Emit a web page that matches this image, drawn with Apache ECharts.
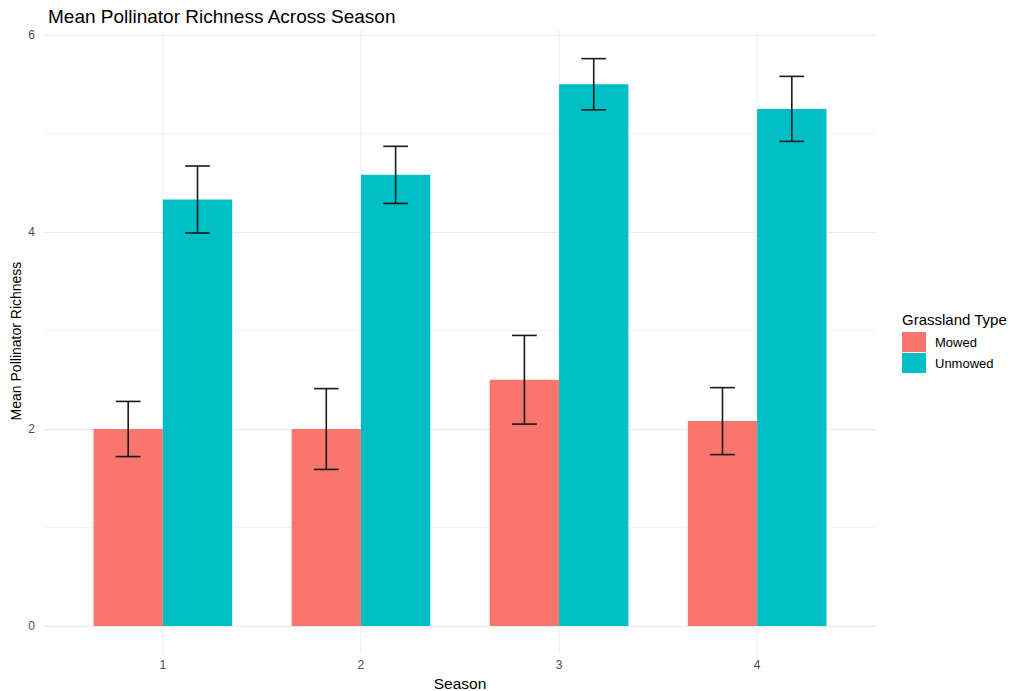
<!DOCTYPE html>
<html>
<head>
<meta charset="utf-8">
<script src="https://cdn.jsdelivr.net/npm/echarts@6/dist/echarts.min.js"></script>
<style>
html,body{margin:0;padding:0;background:#fff;}
#chart{width:1018px;height:691px;}
</style>
</head>
<body>
<div id="chart"></div>
<script>
// ---- data ----
const seasons = ['1', '2', '3', '4'];
const groups = ['Mowed', 'Unmowed'];
const mowedMean = [2.0, 2.0, 2.5, 2.08];
const mowedSE = [0.28, 0.41, 0.45, 0.34];
const unmowedMean = [4.33, 4.58, 5.5, 5.25];
const unmowedSE = [0.34, 0.29, 0.26, 0.33];
const yTicks = [0, 2, 4, 6];

// ---- layout/style ----
const FONT = "'Liberation Sans', Arial, sans-serif";
const colors = ['#F8766D', '#00BFC4'];
const BAR_W = 0.35;      // each dodged bar width (x units)
const CAP_W = 0.125;     // error bar cap width (x units)

const means = [mowedMean, unmowedMean];
const ses = [mowedSE, unmowedSE];
let maxTop = 0;
means.forEach((m, g) => m.forEach((v, i) => { maxTop = Math.max(maxTop, v + ses[g][i]); }));
const panelTop = maxTop * 1.05;
const panelBottom = -maxTop * 0.05;

function barSeries(g) {
  return {
    name: groups[g],
    type: 'custom',
    itemStyle: { color: colors[g] },
    z: 3,
    data: seasons.map((s, i) => [i + 1, means[g][i]]),
    renderItem: function (params, api) {
      const x = api.value(0), y = api.value(1);
      const off = g === 0 ? -BAR_W / 2 : BAR_W / 2;
      const p0 = api.coord([x + off - BAR_W / 2, y]);
      const p1 = api.coord([x + off + BAR_W / 2, 0]);
      return {
        type: 'rect',
        shape: { x: p0[0], y: p0[1], width: p1[0] - p0[0], height: p1[1] - p0[1] },
        style: { fill: colors[g] }
      };
    }
  };
}

const errData = [];
groups.forEach((gname, g) => seasons.forEach((s, i) => errData.push([i + 1, means[g][i], ses[g][i], g])));

const option = {
  animation: false,
  backgroundColor: '#ffffff',
  textStyle: { fontFamily: FONT },
  title: {
    text: 'Mean Pollinator Richness Across Season',
    left: 43, top: 2,
    textStyle: { fontFamily: FONT, fontSize: 19, fontWeight: 'normal', color: '#000' }
  },
  grid: { left: 44, right: 142, top: 35, bottom: 65, containLabel: false, outerBoundsMode: 'none' },
  legend: {
    data: groups,
    orient: 'vertical',
    left: 902, top: 332,
    itemWidth: 24, itemHeight: 20, itemGap: 1,
    icon: 'rect',
    padding: 0,
    textStyle: { fontFamily: FONT, fontSize: 13, color: '#000', padding: [0, 0, 0, 4] }
  },
  graphic: [
    {
      type: 'text', left: 902, top: 312,
      style: { text: 'Grassland Type', fontFamily: FONT, fontSize: 15, fill: '#000' }
    },
    {
      type: 'text', x: 16, y: 341, rotation: Math.PI / 2,
      style: { text: 'Mean Pollinator Richness', fontFamily: FONT, fontSize: 14, fill: '#000',
               textAlign: 'center', textVerticalAlign: 'middle' }
    }
  ],
  xAxis: {
    type: 'value',
    min: 0.4, max: 4.6,
    name: 'Season',
    nameLocation: 'middle',
    nameGap: 46,
    nameTextStyle: { fontFamily: FONT, fontSize: 15.5, color: '#000' },
    axisLine: { show: false },
    axisTick: { show: false },
    splitLine: { show: false },
    axisLabel: {
      customValues: seasons.map((s, i) => i + 1),
      formatter: v => seasons[Math.round(v) - 1] || '',
      fontFamily: FONT, fontSize: 12, color: '#4D4D4D', margin: 33
    }
  },
  yAxis: {
    type: 'value',
    min: yTicks[0], max: yTicks[yTicks.length - 1], interval: yTicks[1] - yTicks[0],
    axisLine: { show: false },
    axisTick: { show: false },
    axisLabel: { fontFamily: FONT, fontSize: 12, color: '#4D4D4D', margin: 9 },
    splitLine: { show: true, lineStyle: { color: '#EBEBEB', width: 1 } },
    minorTick: { show: false, splitNumber: 2 },
    minorSplitLine: { show: true, lineStyle: { color: '#F3F3F3', width: 1 } }
  },
  series: [
    {
      name: 'vgrid',
      type: 'custom',
      silent: true,
      z: 1,
      clip: false,
      data: seasons.map((s, i) => [i + 1, 0]),
      renderItem: function (params, api) {
        const x = api.value(0);
        const p0 = api.coord([x, panelTop]);
        const p1 = api.coord([x, panelBottom]);
        return {
          type: 'line',
          shape: { x1: p0[0], y1: p0[1], x2: p1[0], y2: p1[1] },
          style: { stroke: '#EBEBEB', lineWidth: 1 }
        };
      }
    },
    barSeries(0),
    barSeries(1),
    {
      name: 'errorbars',
      type: 'custom',
      z: 5,
      clip: false,
      data: errData,
      renderItem: function (params, api) {
        const x = api.value(0), m = api.value(1), se = api.value(2), g = api.value(3);
        const cx = x + (g === 0 ? -BAR_W / 2 : BAR_W / 2);
        const top = api.coord([cx, m + se]);
        const bot = api.coord([cx, m - se]);
        const l = api.coord([cx - CAP_W / 2, m])[0];
        const r = api.coord([cx + CAP_W / 2, m])[0];
        const st = { stroke: '#1a1a1a', lineWidth: 1.6 };
        return {
          type: 'group',
          children: [
            { type: 'line', shape: { x1: top[0], y1: top[1], x2: bot[0], y2: bot[1] }, style: st },
            { type: 'line', shape: { x1: l, y1: top[1], x2: r, y2: top[1] }, style: st },
            { type: 'line', shape: { x1: l, y1: bot[1], x2: r, y2: bot[1] }, style: st }
          ]
        };
      }
    }
  ]
};

const chart = echarts.init(document.getElementById('chart'), null, { renderer: 'svg' });
chart.setOption(option);
</script>
</body>
</html>
